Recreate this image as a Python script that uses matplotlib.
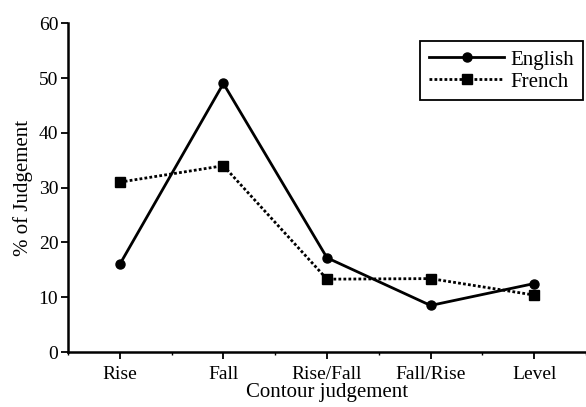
import matplotlib.pyplot as plt
from matplotlib.ticker import MultipleLocator

categories = ["Rise", "Fall", "Rise/Fall", "Fall/Rise", "Level"]
english = [16, 49, 17.2, 8.5, 12.5]
french = [31, 34, 13.3, 13.4, 10.4]


def main() -> None:
    plt.rcParams["font.family"] = "Liberation Serif"
    plt.rcParams["font.size"] = 14

    fig = plt.figure(figsize=(5.86, 4.07), dpi=100)
    ax = fig.add_axes([0.116, 0.135, 0.884, 0.808])

    x = list(range(1, len(categories) + 1))
    ax.plot(x, english, color="black", linewidth=2, marker="o", markersize=6.5,
            label="English")
    ax.plot(x, french, color="black", linewidth=2, linestyle=(0, (1, 0.8)),
            marker="s", markersize=6.5, label="French")

    ax.set_xlim(0.5, 5.5)
    ax.set_ylim(0, 60)
    ax.set_xticks(x, categories)
    ax.xaxis.set_minor_locator(MultipleLocator(0.5))
    ax.yaxis.set_major_locator(MultipleLocator(10))
    ax.tick_params(axis="both", direction="out", length=5, width=1.3, labelsize=14)
    ax.tick_params(axis="x", which="minor", length=2.5, width=1)
    ax.tick_params(axis="x", pad=5)
    ax.tick_params(axis="y", pad=2)

    for side in ("top", "right"):
        ax.spines[side].set_visible(False)
    for side in ("left", "bottom"):
        ax.spines[side].set_linewidth(1.8)

    ax.set_xlabel("Contour judgement", fontsize=15, labelpad=0)
    ax.set_ylabel("% of Judgement", fontsize=15, labelpad=4)

    leg = ax.legend(loc="upper right", bbox_to_anchor=(0.994, 0.945), fancybox=False,
                    edgecolor="black", framealpha=1, fontsize=15, handlelength=3.6,
                    borderpad=0.42, labelspacing=0.12, handletextpad=0.3,
                    borderaxespad=0)
    leg.get_frame().set_linewidth(1.3)

    fig.savefig("out.png", dpi=100)


if __name__ == "__main__":
    main()
